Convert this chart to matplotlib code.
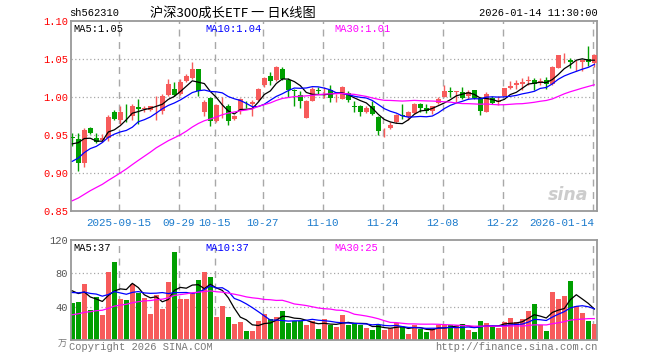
import numpy as np
import pandas as pd
import matplotlib
matplotlib.use("Agg")
import matplotlib.pyplot as plt
from matplotlib.transforms import blended_transform_factory

# ---------------- data ----------------
code = "sh562310"
title = "沪深300成长ETF 一 日K线图"
stamp = "2026-01-14 11:30:00"

holidays = ["2025-10-01", "2025-10-02", "2025-10-03", "2025-10-06", "2025-10-07",
            "2025-10-08", "2026-01-01", "2026-01-02"]
date_ticks = ["2025-09-15", "2025-09-29", "2025-10-15", "2025-10-27", "2025-11-10",
              "2025-11-24", "2025-12-08", "2025-12-22", "2026-01-14"]
tick_text = ["2025-09-15", "09-29", "10-15", "10-27", "11-10", "11-24", "12-08",
             "12-22", "2026-01-14"]

opens = [0.947, 0.945, 0.913, 0.959, 0.946, 0.943, 0.9455, 0.980, 0.969, 0.980,
         0.9745, 0.9868, 0.984, 0.9833, 0.9928, 0.982, 1.003, 1.0105, 1.004, 1.0205,
         1.025, 1.0365, 0.9797, 0.9978, 0.968, 0.9874, 0.9885, 0.971, 0.982, 0.9905,
         0.991, 0.9964, 1.015, 1.028, 1.0215, 1.0372, 1.0219, 1.0085, 1.003, 0.9724,
         0.9942, 1.0085, 1.0072, 1.0096, 1.0006, 0.997, 1.0053, 0.9872, 0.9876, 0.9797,
         0.9885, 0.9737, 0.9532, 0.959, 0.9666, 0.9757, 0.9737, 0.979, 0.990, 0.985,
         0.981, 0.992, 1.000, 1.0068, 1.0064, 1.0066, 1.0008, 1.0087, 0.9978, 0.9803,
         0.9987, 0.9938, 1.0017, 1.0118, 1.015, 1.0162, 1.0212, 1.0215, 1.0200, 1.0215,
         1.0171, 1.0382, 1.0545, 1.048, 1.0466, 1.0455, 1.050, 1.0447]
highs = [0.953, 0.952, 0.959, 0.960, 0.953, 0.951, 0.9767, 0.983, 0.9885, 0.991,
         0.991, 0.9974, 0.9885, 0.9885, 1.0008, 1.0043, 1.0228, 1.019, 1.023, 1.0295,
         1.0455, 1.0368, 0.9955, 1.000, 0.991, 1.000, 0.990, 0.976, 0.999, 0.995,
         0.996, 1.012, 1.026, 1.0324, 1.040, 1.039, 1.025, 1.0105, 1.008, 0.9955,
         1.0131, 1.013, 1.013, 1.015, 1.004, 1.0145, 1.008, 0.994, 0.9895, 0.9885,
         0.994, 0.9745, 0.959, 0.9675, 0.978, 0.991, 0.982, 0.9915, 0.9915, 0.990,
         0.9885, 0.9995, 1.015, 1.0135, 1.008, 1.0135, 1.0095, 1.0095, 0.9995, 1.006,
         1.001, 1.0008, 1.012, 1.0205, 1.0215, 1.0245, 1.028, 1.025, 1.025, 1.026,
         1.040, 1.0555, 1.058, 1.0505, 1.049, 1.049, 1.0666, 1.0565]
lows = [0.935, 0.902, 0.908, 0.951, 0.9395, 0.940, 0.9416, 0.969, 0.9649, 0.9666,
        0.9695, 0.9645, 0.9807, 0.981, 0.9701, 0.978, 1.0008, 1.001, 1.002, 1.019,
        1.024, 1.0008, 0.975, 0.962, 0.9666, 0.972, 0.963, 0.969, 0.978, 0.9855,
        0.975, 0.995, 1.0135, 1.015, 1.021, 1.0215, 1.000, 0.9885, 0.9855, 0.972,
        0.994, 1.0035, 0.998, 0.9935, 0.9935, 0.9965, 0.993, 0.9797, 0.9745, 0.979,
        0.9765, 0.950, 0.9467, 0.958, 0.965, 0.971, 0.970, 0.978, 0.9795, 0.979,
        0.9777, 0.991, 0.9995, 0.9995, 0.9935, 0.9965, 0.9975, 0.9965, 0.9767, 0.9795,
        0.9905, 0.9895, 1.001, 1.0105, 1.0105, 1.0096, 1.016, 1.0096, 1.016, 1.0105,
        1.016, 1.0375, 1.0447, 1.0375, 1.0345, 1.0345, 1.040, 1.0395]
closes = [0.946, 0.913, 0.957, 0.952, 0.941, 0.9455, 0.9737, 0.971, 0.9797, 0.9795,
          0.9885, 0.9846, 0.984, 0.9876, 0.993, 1.0017, 1.0171, 1.003, 1.0197, 1.028,
          1.0372, 1.0083, 0.9938, 0.968, 0.989, 0.9878, 0.968, 0.9745, 0.9974, 0.990,
          0.993, 1.0105, 1.0245, 1.0205, 1.039, 1.0228, 1.0096, 1.0081, 0.994, 0.9942,
          1.0105, 1.0081, 1.0074, 0.9978, 1.0008, 1.0125, 0.9955, 0.9868, 0.9797, 0.9855,
          0.978, 0.9547, 0.9534, 0.9635, 0.9767, 0.9754, 0.9797, 0.990, 0.9855, 0.981,
          0.9876, 0.9974, 1.0083, 1.0064, 1.0066, 0.9987, 1.0066, 0.9978, 0.982, 1.004,
          0.992, 0.994, 1.011, 1.014, 1.0184, 1.0192, 1.0215, 1.0162, 1.0205, 1.0162,
          1.039, 1.0547, 1.0547, 1.0455, 1.0468, 1.048, 1.0455, 1.0547]
volumes = [44.8, 46, 67.2, 36, 52, 30, 81.6, 94, 49.2, 48,
           67.2, 56, 50.8, 31.2, 54, 37.2, 69.6, 105.6, 49.2, 49.2,
           56, 72, 81.6, 75.6, 27.6, 40.8, 27.6, 19.2, 22, 11.2,
           11.2, 23.2, 31.2, 25.2, 27.6, 35.2, 20.8, 22.4, 22.4, 17.6,
           22.4, 12.8, 25, 17.6, 16, 29.6, 17.6, 19, 17.6, 14.8,
           12, 18, 12, 14, 20, 16, 7.2, 18, 13.2, 9.6,
           13.2, 18, 18, 18, 17, 19.2, 12, 9.6, 22.8, 20,
           17.2, 14.8, 21.6, 26.4, 22, 24.8, 35.2, 43.2, 18, 10.8,
           58, 49.2, 52.8, 70.8, 40.8, 32.4, 22.8, 19.2]
# sessions before the visible window (only feed the moving averages)
prev_close = [0.805, 0.812, 0.808, 0.815, 0.822, 0.818, 0.826, 0.830, 0.824, 0.816,
              0.818, 0.822, 0.826, 0.820, 0.862, 0.878, 0.890, 0.902, 0.885, 0.872,
              0.870, 0.885, 0.900, 0.912, 0.895, 0.905, 0.930, 0.950, 0.960]
prev_volume = [12, 15, 13, 16, 14, 12, 15, 14, 16, 13, 18, 22, 19, 21, 20, 23, 18, 20,
               19, 20, 50, 58, 52, 60, 55, 62, 58, 66, 64]
price_ma_text = ["MA5:1.05", "MA10:1.04", "MA30:1.01"]
vol_ma_text = ["MA5:37", "MA10:37", "MA30:25"]

# ---------------- derived ----------------
dates = pd.bdate_range("2025-09-03", "2026-01-14")
dates = dates[~dates.isin(pd.to_datetime(holidays))]
n = len(closes)
x = np.arange(n)
o = np.array(opens); h = np.array(highs); l = np.array(lows); c = np.array(closes)
v = np.array(volumes)
up = c >= o

def ma(prev, cur, k):
    s = pd.Series(np.concatenate([prev, cur])).rolling(k).mean().values
    return s[len(prev):]

RED = "#f75b5b"
GREEN = "#009f00"
MA_COL = ["#000000", "#0000ff", "#ff00ff"]
GRID = "#a8a8a8"
MONO = "Liberation Mono"

fig = plt.figure(figsize=(6.6, 3.6), dpi=100)
W, H = 660.0, 360.0
L, R = 70.7, 597.3
axp = fig.add_axes([L / W, 1 - 211 / H, (R - L) / W, (211 - 20.7) / H])
axv = fig.add_axes([L / W, 1 - 340 / H, (R - L) / W, 100 / H])

xl = (-0.27, 87.5)
tick_pos = [int(np.where(dates == pd.Timestamp(d))[0][0]) for d in date_ticks]

for ax in (axp, axv):
    ax.set_xlim(*xl)
    for s in ax.spines.values():
        s.set_color("#999999")
        s.set_linewidth(1.3)
    ax.set_xticks([])
    ax.tick_params(axis="y", length=0, pad=2)
    for tp in tick_pos:
        ax.axvline(tp - 0.3, color=GRID, lw=1.0, ls=(0, (5, 4)), zorder=0)

# ---- price panel ----
axp.set_ylim(0.85, 1.10)
pt = [0.85, 0.90, 0.95, 1.00, 1.05, 1.10]
axp.set_yticks(pt)
axp.set_yticklabels([f"{t:.2f}" for t in pt], color="#ff0000", fontsize=7.5, family=MONO)
for t in pt[1:-1]:
    axp.axhline(t, color=GRID, lw=0.9, ls=(0, (1, 2)), zorder=0)

cols = np.where(up, RED, GREEN)
axp.vlines(x, l, h, colors=cols, lw=1.0, zorder=2)
body_lo = np.minimum(o, c)
body_h = np.maximum(np.abs(c - o), 0.0009)
axp.bar(x, body_h, bottom=body_lo, width=0.78, color=cols, lw=0, zorder=3)

for k, col in zip([5, 10, 30], MA_COL):
    axp.plot(x, ma(prev_close, c, k), color=col, lw=0.9, zorder=4)

label_x = [0.006, 0.255, 0.5]
for txt, xx, col in zip(price_ma_text, label_x, MA_COL):
    axp.text(xx, 0.985, txt, color=col, fontsize=7.5, family=MONO, va="top", ha="left",
             transform=axp.transAxes)

for tp, tt in zip(tick_pos, tick_text):
    ha = "right" if tp == n - 1 else "center"
    axp.text(tp - 0.3 + (0.3 if ha == "right" else 0), -0.035, tt, color="#1a7acc",
             fontsize=7.8, family=MONO, ha=ha, va="top",
             transform=blended_transform_factory(axp.transData, axp.transAxes))

axp.text(0.944, 0.085, "sina", color="#c4c4c4", fontsize=12.5, fontweight="bold",
         style="italic", ha="center", va="center", transform=axp.transAxes, alpha=0.85)

# ---- volume panel ----
axv.set_ylim(0, 120)
vt = [40, 80, 120]
axv.set_yticks(vt)
axv.set_yticklabels([str(t) for t in vt], color="#555555", fontsize=7.5, family=MONO)
for t in [40, 80]:
    axv.axhline(t, color=GRID, lw=0.9, ls=(0, (1, 2)), zorder=0)
axv.bar(x, v, width=0.82, color=cols, lw=0, zorder=2)
for k, col in zip([5, 10, 30], MA_COL):
    axv.plot(x, ma(prev_volume, v, k), color=col, lw=0.9, zorder=4)
for txt, xx, col in zip(vol_ma_text, label_x, MA_COL):
    axv.text(xx, 0.97, txt, color=col, fontsize=7.5, family=MONO, va="top", ha="left",
             transform=axv.transAxes)

# ---- header / footer text ----
fig.text(69 / W, 1 - 13 / H, code, fontsize=7.5, family=MONO, va="center", ha="left")
fig.text(233 / W, 1 - 13 / H, title, fontsize=9.5,
         family=["Noto Sans CJK SC", "DejaVu Sans"], va="center", ha="center")
fig.text(598 / W, 1 - 13 / H, stamp, fontsize=7.5, family=MONO, va="center", ha="right")
fig.text(69 / W, 1 - 347 / H, "Copyright 2026 SINA.COM", fontsize=7.5, family=MONO,
         color="#777777", va="center", ha="left")
fig.text(598 / W, 1 - 347 / H, "http://finance.sina.com.cn", fontsize=7.5, family=MONO,
         color="#777777", va="center", ha="right")
fig.text(62 / W, 1 - 344 / H, "万", fontsize=6.5,
         family=["Noto Sans CJK SC", "DejaVu Sans"], color="#777777", va="center", ha="center")

fig.savefig("out.png", dpi=100)
